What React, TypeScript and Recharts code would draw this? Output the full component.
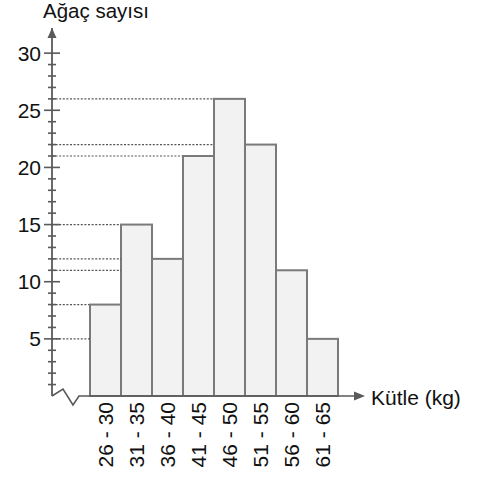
import React from 'react';
import { BarChart, Bar, XAxis, YAxis } from 'recharts';

const categories = ['26 - 30', '31 - 35', '36 - 40', '41 - 45', '46 - 50', '51 - 55', '56 - 60', '61 - 65'];
const treeCounts = [8, 15, 12, 21, 26, 22, 11, 5];
const yTicks = [1, 2, 3, 4, 5, 6, 7, 8, 9, 10, 11, 12, 13, 14, 15, 16, 17, 18, 19, 20, 21, 22, 23, 24, 25, 26, 27, 28, 29, 30];
const yTitle = 'Ağaç sayısı';
const xTitle = 'Kütle (kg)';

const data = categories.map((c, i) => ({ range: c, count: treeCounts[i] }));

const W = 483;
const H = 481;
const Y_AXIS_W = 52;
const X_AXIS_H = 85;
const FONT = '"Liberation Sans", Arial, sans-serif';
const AXIS_COLOR = '#5a5a5a';
const BAR_STROKE = '#7a7a7a';
const BAR_FILL = '#f2f2f2';

const BarShape = (props: any) => {
  const { x, y, width, height, index } = props;
  const value = treeCounts[index];
  // the guide line stops at the first (leftmost) bar that is at least as tall
  let first = index;
  for (let j = 0; j < index; j++) {
    if (treeCounts[j] >= value) {
      first = j;
      break;
    }
  }
  const lineEnd = x - (index - first) * width;
  return (
    <g>
      <line x1={Y_AXIS_W} y1={y} x2={lineEnd} y2={y} stroke="#555" strokeWidth={1.2} strokeDasharray="2 1.6" />
      <rect x={x} y={y} width={width} height={height} fill={BAR_FILL} stroke={BAR_STROKE} strokeWidth={2} />
    </g>
  );
};

const YTick = (props: any) => {
  const { x, y, payload } = props;
  const v = payload.value;
  const major = v % 5 === 0;
  return (
    <g>
      {major ? (
        <line x1={x - 8} y1={y} x2={x + 8} y2={y} stroke={AXIS_COLOR} strokeWidth={1.6} />
      ) : (
        <line x1={x - 4} y1={y} x2={x + 4} y2={y} stroke={AXIS_COLOR} strokeWidth={1.6} />
      )}
      {major && (
        <text x={x - 11} y={y} dy="0.36em" textAnchor="end" fontSize={21} fontFamily={FONT} fill="#111">
          {v}
        </text>
      )}
    </g>
  );
};

const XTick = (props: any) => {
  const { x, y, payload } = props;
  const ty = y + 6;
  return (
    <text
      x={x}
      y={ty}
      dy="0.36em"
      transform={`rotate(-90 ${x} ${ty})`}
      textAnchor="end"
      fontSize={21}
      fontFamily={FONT}
      fill="#111"
    >
      {payload.value}
    </text>
  );
};

const YAxisDecor = (props: any) => {
  const vb = props.viewBox || {};
  const ax = vb.x + vb.width;
  const top = vb.y;
  return (
    <g>
      <path d={`M ${ax} ${top} L ${ax - 4.5} ${top + 10} L ${ax + 4.5} ${top + 10} Z`} fill={AXIS_COLOR} />
      <text x={43} y={18} fontSize={20.5} fontFamily={FONT} fill="#111">
        {yTitle}
      </text>
    </g>
  );
};

const XAxisDecor = (props: any) => {
  const vb = props.viewBox || {};
  const x0 = vb.x;
  const y0 = vb.y;
  const tip = vb.x + vb.width;
  return (
    <g>
      <path
        d={`M ${x0} ${y0} L ${x0 + 11} ${y0 - 7} L ${x0 + 21} ${y0 + 9} L ${x0 + 27} ${y0} L ${tip - 10} ${y0}`}
        fill="none"
        stroke={AXIS_COLOR}
        strokeWidth={1.6}
      />
      <path d={`M ${tip} ${y0} L ${tip - 11} ${y0 - 4.5} L ${tip - 11} ${y0 + 4.5} Z`} fill={AXIS_COLOR} />
      <text x={tip + 6} y={y0 + 8.5} fontSize={21} fontFamily={FONT} fill="#111">
        {xTitle}
      </text>
    </g>
  );
};

export default function App() {
  return (
    <div style={{ position: 'absolute', left: 0, top: 0, width: W, height: H, background: '#fff' }}>
      <BarChart
        width={W}
        height={H}
        data={data}
        margin={{ top: 28, right: W - 365, bottom: 0, left: 0 }}
        barCategoryGap={0}
        barGap={0}
      >
        <XAxis
          dataKey="range"
          type="category"
          height={X_AXIS_H}
          padding={{ left: 38, right: 27 }}
          axisLine={false}
          tickLine={false}
          tickSize={0}
          tickMargin={0}
          interval={0}
          tick={<XTick />}
          label={{ content: <XAxisDecor /> }}
        />
        <YAxis
          type="number"
          width={Y_AXIS_W}
          domain={[0, 32.2]}
          ticks={yTicks}
          interval={0}
          allowDecimals={false}
          axisLine={{ stroke: AXIS_COLOR, strokeWidth: 1.8 }}
          tickLine={false}
          tickSize={0}
          tickMargin={0}
          tick={<YTick />}
          label={{ content: <YAxisDecor /> }}
        />
        <Bar dataKey="count" isAnimationActive={false} shape={<BarShape />} />
      </BarChart>
    </div>
  );
}
